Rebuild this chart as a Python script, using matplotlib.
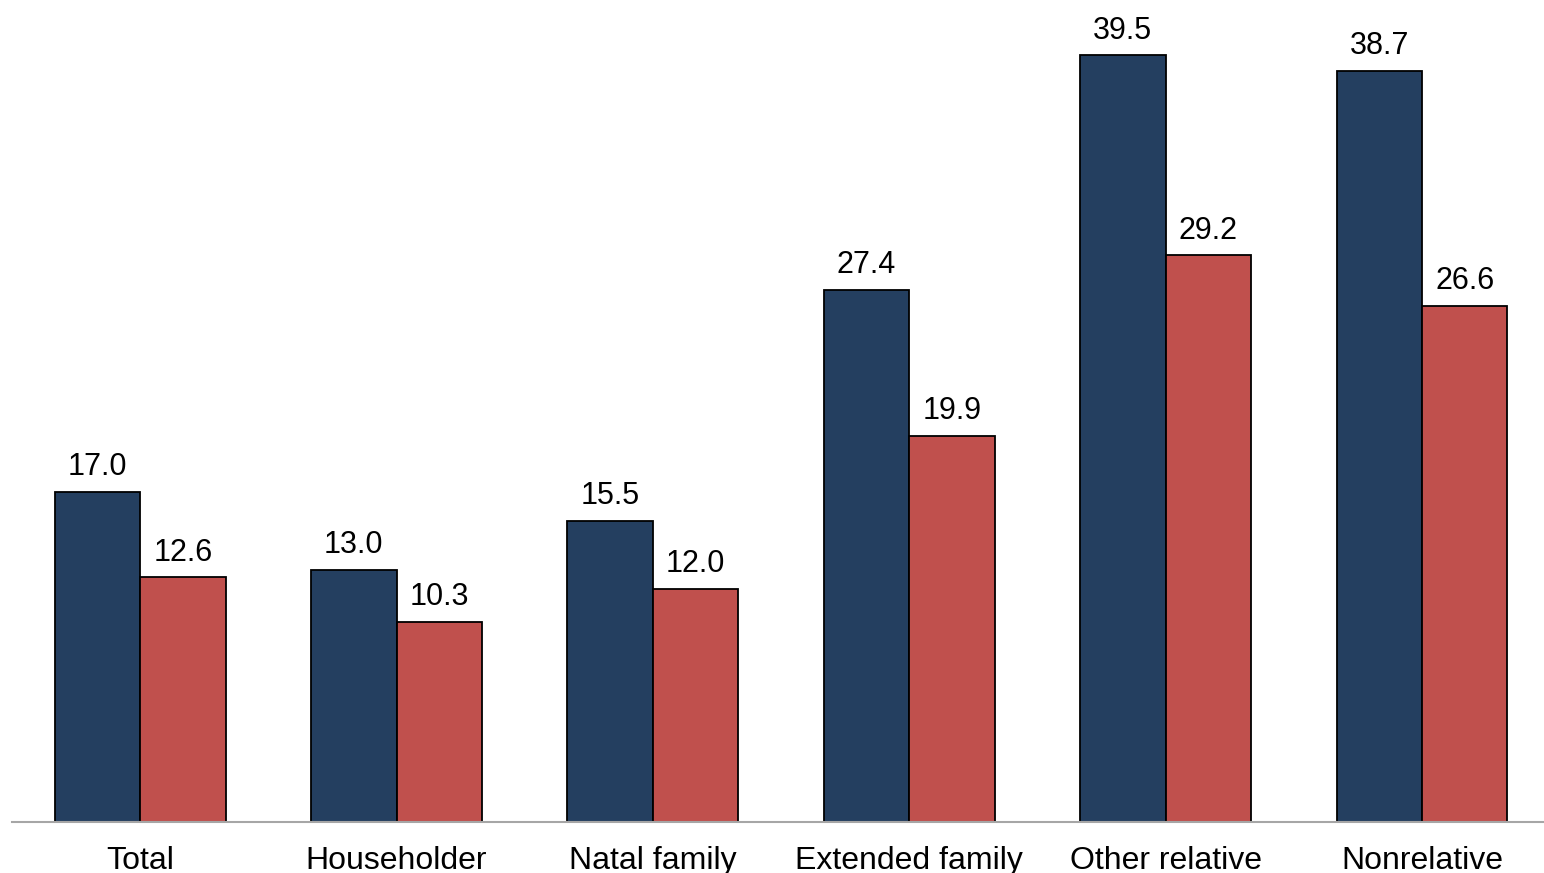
import matplotlib
matplotlib.use('Agg')
import matplotlib.pyplot as plt
import numpy as np

plt.rcParams.update({'font.family': 'sans-serif',
                     'font.sans-serif': ['Liberation Sans', 'DejaVu Sans']})

categories = ['Total', 'Householder', 'Natal family', 'Extended family',
              'Other relative', 'Nonrelative']
series_a = [17.0, 13.0, 15.5, 27.4, 39.5, 38.7]
series_b = [12.6, 10.3, 12.0, 19.9, 29.2, 26.6]

NAVY = '#243F60'
RED = '#C0504D'

fig = plt.figure(figsize=(15.44, 8.73), dpi=100)
ax = fig.add_axes([12 / 1544, 51 / 873, 1 - 12 / 1544, 1 - 51 / 873])

x = np.arange(len(categories))
w = 1 / 3
bars_a = ax.bar(x - w / 2, series_a, w, color=NAVY, edgecolor='black', linewidth=1.3)
bars_b = ax.bar(x + w / 2, series_b, w, color=RED, edgecolor='black', linewidth=1.3)

ax.bar_label(bars_a, labels=[f'{v:.1f}' for v in series_a], padding=7, fontsize=22)
ax.bar_label(bars_b, labels=[f'{v:.1f}' for v in series_b], padding=7, fontsize=22)

ax.set_xlim(-0.5, 5.476)
ax.set_ylim(0, 42.35)
ax.set_xticks(x)
ax.set_xticklabels(categories, fontsize=23)
ax.tick_params(axis='x', length=0, pad=17)
ax.set_yticks([])
for side in ['top', 'left', 'right']:
    ax.spines[side].set_visible(False)
ax.spines['bottom'].set_color('#A6A6A6')
ax.spines['bottom'].set_linewidth(1.5)

fig.savefig('out.png', dpi=100, facecolor='white')
